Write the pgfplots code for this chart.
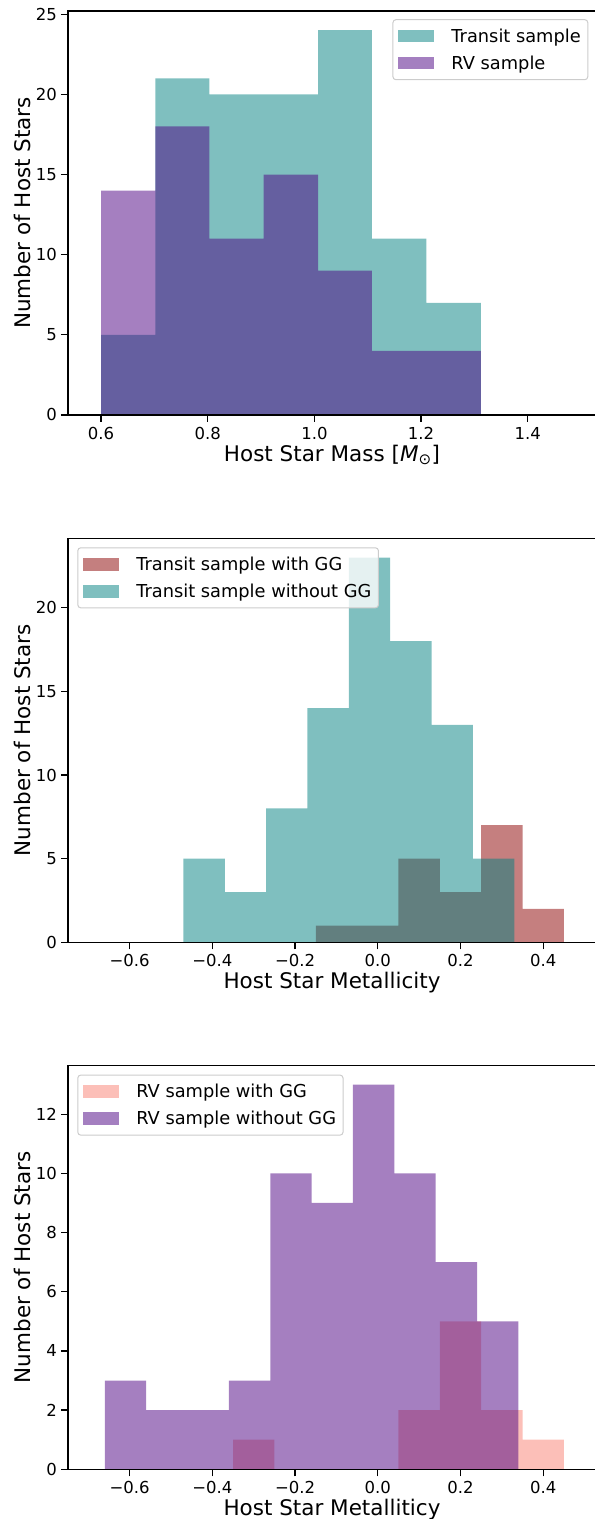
\documentclass[border=0pt]{standalone}
\usepackage{fontspec}
\setmainfont{DejaVu Sans}
\usepackage{pgfplots}
\pgfplotsset{compat=1.18}
\definecolor{cteal}{RGB}{0,128,128}
\definecolor{cindigo}{RGB}{75,0,130}
\definecolor{cdarkred}{RGB}{139,0,0}
\definecolor{csalmon}{RGB}{250,128,114}
\newcommand{\ticksz}{\fontsize{16.5bp}{20bp}\selectfont}
\newcommand{\labsz}{\fontsize{21.5bp}{25bp}\selectfont}
\newcommand{\legsz}{\fontsize{17.8bp}{21bp}\selectfont}
\pgfplotsset{
  panel/.style={
    scale only axis, width=528bp, height=404bp,
    axis on top,
    axis line style={line width=1.25bp},
    every tick/.style={black, line width=1.25bp},
    tick align=outside, major tick length=7bp,
    xtick pos=left, ytick pos=left,
    /pgf/number format/assume math mode=true,
    tick label style={font=\ticksz},
    xticklabel style={font=\ticksz, anchor=base, inner sep=0bp, yshift=-17.3bp},
    yticklabel style={font=\ticksz, anchor=east, inner sep=0bp, xshift=-4bp},
    xlabel style={font=\labsz, at={(axis description cs:0.5,-0.1155)}, anchor=base},
    ylabel style={font=\labsz, at={(axis description cs:-0.0871,0.5)}, anchor=center},
    ymin=0,
    legend cell align=left,
    legend style={font=\legsz, draw=black!20, line width=1bp, fill=white,
      fill opacity=0.8, text opacity=1, rounded corners=3bp,
      inner xsep=5bp, inner ysep=7bp, row sep=8bp,
      nodes={inner sep=2bp}},
  },
  hist/.style={ybar interval, fill=#1, fill opacity=0.5, draw=none,
    legend image code/.code={\fill[##1, draw=none, sharp corners] (0bp,-6.2bp) rectangle (36bp,6.2bp); \path (51.5bp,0bp);}},
}
\begin{document}
\begin{tikzpicture}
\useasboundingbox (0,0) rectangle (595bp,1519bp);

% Panel 1
\begin{axis}[panel, at={(68bp,1104bp)}, anchor=south west,
  xmin=0.538, xmax=1.528, ymax=25.2,
  xtick={0.6,0.8,1.0,1.2,1.4}, xticklabels={0.6,0.8,1.0,1.2,1.4},
  ytick={0,5,10,15,20,25},
  xlabel={Host Star Mass [\textit{M}\textsubscript{⊙}]},
  ylabel={Number of Host Stars},
  legend style={at={(axis description cs:0.9854,0.9797)}, anchor=north east}]
\addplot[hist=cteal] coordinates {(0.600,5) (0.702,21) (0.803,20) (0.905,20) (1.007,24) (1.108,11) (1.210,7) (1.312,0)};
\addlegendentry{Transit sample}
\addplot[hist=cindigo] coordinates {(0.600,14) (0.702,18) (0.803,11) (0.905,15) (1.007,9) (1.108,4) (1.210,4) (1.312,0)};
\addlegendentry{RV sample}
\end{axis}

% Panel 2
\begin{axis}[panel, at={(68bp,576.7bp)}, anchor=south west,
  xmin=-0.749, xmax=0.5275, ymax=24.15,
  xtick={-0.6,-0.4,-0.2,0.0,0.2,0.4}, xticklabels={−0.6,−0.4,−0.2,0.0,0.2,0.4},
  ytick={0,5,10,15,20},
  xlabel={Host Star Metallicity},
  ylabel={Number of Host Stars},
  legend style={at={(axis description cs:0.0176,0.9777)}, anchor=north west}]
\addplot[hist=cdarkred] coordinates {(-0.15,1) (-0.05,1) (0.05,5) (0.15,3) (0.25,7) (0.35,2) (0.45,0)};
\addlegendentry{Transit sample with GG}
\addplot[hist=cteal] coordinates {(-0.47,5) (-0.37,3) (-0.27,8) (-0.17,14) (-0.07,23) (0.03,18) (0.13,13) (0.23,5) (0.33,0)};
\addlegendentry{Transit sample without GG}
\end{axis}

% Panel 3
\begin{axis}[panel, at={(68bp,49.7bp)}, anchor=south west,
  xmin=-0.749, xmax=0.5275, ymax=13.65,
  xtick={-0.6,-0.4,-0.2,0.0,0.2,0.4}, xticklabels={−0.6,−0.4,−0.2,0.0,0.2,0.4},
  ytick={0,2,4,6,8,10,12},
  xlabel={Host Star Metallitiсy},
  ylabel={Number of Host Stars},
  legend style={at={(axis description cs:0.0176,0.977)}, anchor=north west}]
\addplot[hist=csalmon] coordinates {(-0.35,1) (-0.25,0) (-0.15,0) (-0.05,0) (0.05,2) (0.15,5) (0.25,2) (0.35,1) (0.45,0)};
\addlegendentry{RV sample with GG}
\addplot[hist=cindigo] coordinates {(-0.66,3) (-0.56,2) (-0.46,2) (-0.36,3) (-0.26,10) (-0.16,9) (-0.06,13) (0.04,10) (0.14,7) (0.24,5) (0.34,0)};
\addlegendentry{RV sample without GG}
\end{axis}
\end{tikzpicture}
\end{document}
